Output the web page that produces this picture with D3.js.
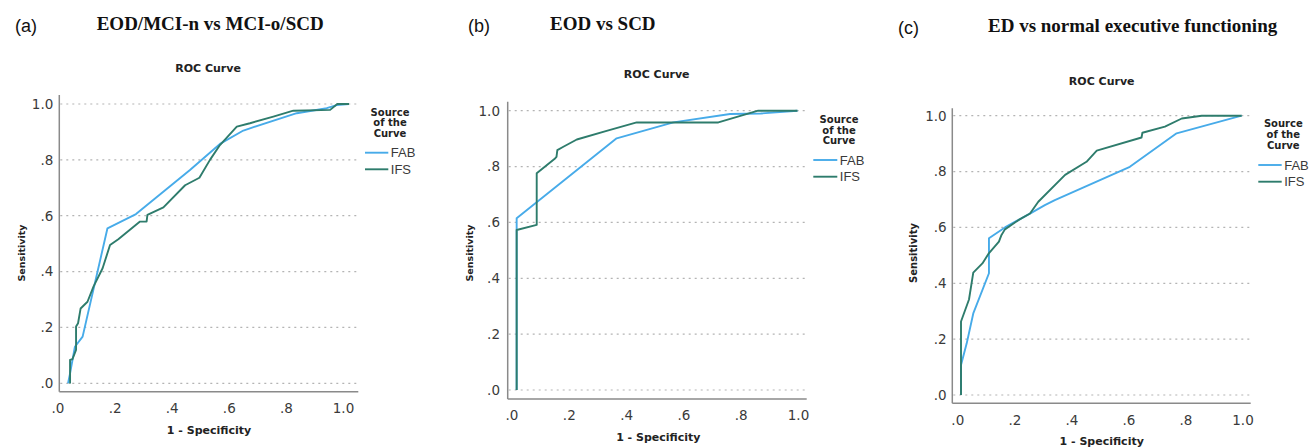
<!DOCTYPE html>
<html><head><meta charset="utf-8">
<script src="https://cdn.jsdelivr.net/npm/d3@7"></script>
<style>
html,body{margin:0;padding:0;background:#fff;}
svg{display:block;}
</style></head>
<body>
<svg id="chart" width="1309" height="447"></svg>
<script>
// ---------- data ----------
const panelLetters = ["(a)", "(b)", "(c)"];
const panelTitles = ["EOD/MCI-n vs MCI-o/SCD", "EOD vs SCD", "ED vs normal executive functioning"];
const chartTitle = "ROC Curve";
const xAxisTitle = "1 - Specificity";
const yAxisTitle = "Sensitivity";
const legendTitle = ["Source", "of the", "Curve"];
const seriesNames = ["FAB", "IFS"];
const tickValues = [0, 0.2, 0.4, 0.6, 0.8, 1.0];
const tickLabels = [".0", ".2", ".4", ".6", ".8", "1.0"];

// panel (a): [1 - specificity, sensitivity]
const fabA = [[0.037,0],[0.043,0.03],[0.061,0.131],[0.088,0.167],[0.175,0.555],[0.275,0.606],[0.464,0.764],[0.569,0.857],[0.651,0.905],[0.674,0.913],[0.838,0.967],[0.943,0.985],[0.978,0.996],[1.021,1.0]];
const ifsA = [[0.041,0.002],[0.044,0.002],[0.044,0.084],[0.052,0.086],[0.065,0.12],[0.065,0.203],[0.072,0.215],[0.081,0.268],[0.105,0.292],[0.126,0.346],[0.158,0.412],[0.184,0.495],[0.213,0.516],[0.289,0.579],[0.312,0.579],[0.315,0.603],[0.371,0.630],[0.447,0.709],[0.497,0.736],[0.534,0.8],[0.569,0.853],[0.628,0.919],[0.674,0.931],[0.756,0.955],[0.826,0.976],[0.955,0.979],[0.98,1.0],[1.021,1.0]];
// panel (b)
const fabB = [[0.018,0],[0.018,0.615],[0.367,0.901],[0.565,0.958],[0.763,0.988],[0.87,0.99],[0.998,1.0]];
const ifsB = [[0.018,0],[0.018,0.573],[0.088,0.591],[0.088,0.776],[0.152,0.829],[0.157,0.835],[0.16,0.859],[0.181,0.871],[0.228,0.897],[0.332,0.928],[0.437,0.958],[0.722,0.958],[0.861,1.0],[0.998,1.0]];
// panel (c)
const fabC = [[0.013,0],[0.013,0.107],[0.033,0.185],[0.056,0.292],[0.111,0.436],[0.111,0.561],[0.167,0.6],[0.261,0.653],[0.307,0.68],[0.342,0.698],[0.605,0.817],[0.769,0.937],[0.997,1.0]];
const ifsC = [[0.013,0],[0.013,0.263],[0.041,0.342],[0.056,0.438],[0.088,0.471],[0.109,0.505],[0.146,0.549],[0.155,0.573],[0.167,0.593],[0.214,0.626],[0.255,0.65],[0.284,0.692],[0.378,0.788],[0.453,0.835],[0.489,0.875],[0.646,0.922],[0.649,0.939],[0.728,0.961],[0.787,0.99],[0.857,1.0],[0.997,1.0]];

const panelSeries = [[fabA, ifsA], [fabB, ifsB], [fabC, ifsC]];

// ---------- layout ----------
const layouts = [
  {x0:57.5, x1:343, y0:383.3, y1:104, axL:59.3, axB:391.7, axT:95, axR:358.3, yLabEnd:53.3, xLabY:403.4,
   letterX:15, letterY:31.5, titleX:96.7, titleY:29.5, rocX:208, rocY:71.5,
   sensX:21.7, sensY:253, sensSize:9.5, specX:209, specY:430,
   legCx:390, legTY:[112.3,122.7,133.3], legL0:365, legL1:388.3, legY:[152.7,169.3]},
  {x0:511.5, x1:798, y0:390, y1:110.7, axL:507.7, axB:399, axT:101.7, axR:806.7, yLabEnd:500, xLabY:410.4,
   letterX:468, letterY:31.5, titleX:550, titleY:29.5, rocX:656.7, rocY:78,
   sensX:470, sensY:253, sensSize:9.5, specX:658.3, specY:436.7,
   legCx:839, legTY:[119,130,140.7], legL0:813.3, legL1:837.3, legY:[160,176.7]},
  {x0:957.3, x1:1242.5, y0:395, y1:115.7, axL:952.3, axB:403.3, axT:108.3, axR:1250.7, yLabEnd:946.7, xLabY:415.4,
   letterX:898, letterY:33.5, titleX:988, titleY:31.7, rocX:1101.7, rocY:85,
   sensX:913.3, sensY:253, sensSize:10, specX:1101.7, specY:440.7,
   legCx:1283.3, legTY:[123.3,134.3,145], legL0:1258.3, legL1:1281.7, legY:[165,181.7]}
];
const colors = ["#47abe9", "#2e7c6c"];
const sansBold = "'DejaVu Sans', sans-serif";

const svg = d3.select("#chart");

layouts.forEach((L, pi) => {
  const g = svg.append("g");
  const x = d3.scaleLinear().domain([0, 1]).range([L.x0, L.x1]);
  const y = d3.scaleLinear().domain([0, 1]).range([L.y0, L.y1]);

  // panel letter + title
  g.append("text").attr("x", L.letterX).attr("y", L.letterY)
    .attr("font-family", "'Liberation Sans', Arial, sans-serif").attr("font-size", 18).attr("fill", "#111")
    .text(panelLetters[pi]);
  g.append("text").attr("x", L.titleX).attr("y", L.titleY)
    .attr("font-family", "'Liberation Serif', 'Times New Roman', serif").attr("font-weight", "bold")
    .attr("font-size", 19).attr("fill", "#111").text(panelTitles[pi]);
  g.append("text").attr("x", L.rocX).attr("y", L.rocY).attr("text-anchor", "middle")
    .attr("font-family", sansBold).attr("font-weight", "bold").attr("font-size", 11).attr("fill", "#222")
    .text(chartTitle);

  // gridlines
  g.append("g").selectAll("line").data(tickValues).join("line")
    .attr("x1", L.axL + 1).attr("x2", L.axR)
    .attr("y1", d => y(d)).attr("y2", d => y(d))
    .attr("stroke", "#b4b4b4").attr("stroke-width", 1.2).attr("stroke-dasharray", "2,4");

  // y axis labels
  const yAxis = d3.axisLeft(y).tickValues(tickValues).tickFormat((d, i) => tickLabels[i])
    .tickSize(0).tickPadding(L.axL - L.yLabEnd);
  const ya = g.append("g").attr("transform", `translate(${L.axL},0)`).call(yAxis);
  ya.select(".domain").remove();
  ya.selectAll("text").attr("font-family", "'DejaVu Sans', sans-serif").attr("font-size", 13.5).attr("fill", "#3a3a3a");

  // x axis labels
  const xAxis = d3.axisBottom(x).tickValues(tickValues).tickFormat((d, i) => tickLabels[i])
    .tickSize(0).tickPadding(L.xLabY - L.axB);
  const xa = g.append("g").attr("transform", `translate(0,${L.axB})`).call(xAxis);
  xa.select(".domain").remove();
  xa.selectAll("text").attr("font-family", "'DejaVu Sans', sans-serif").attr("font-size", 13.5).attr("fill", "#3a3a3a");

  // axis lines
  g.append("line").attr("x1", L.axL).attr("x2", L.axL).attr("y1", L.axT).attr("y2", L.axB)
    .attr("stroke", "#8a8a8a").attr("stroke-width", 1.5);
  g.append("line").attr("x1", L.axL).attr("x2", L.axR).attr("y1", L.axB).attr("y2", L.axB)
    .attr("stroke", "#8a8a8a").attr("stroke-width", 1.5);

  // curves
  const line = d3.line().x(d => x(d[0])).y(d => y(d[1]));
  panelSeries[pi].forEach((s, si) => {
    g.append("path").datum(s).attr("d", line).attr("fill", "none")
      .attr("stroke", colors[si]).attr("stroke-width", 1.9).attr("stroke-linejoin", "round");
  });

  // axis titles
  g.append("text").attr("transform", `translate(${L.sensX},${L.sensY}) rotate(-90)`)
    .attr("text-anchor", "middle").attr("dy", "0.35em")
    .attr("font-family", sansBold).attr("font-weight", "bold").attr("font-size", L.sensSize).attr("fill", "#222")
    .text(yAxisTitle);
  g.append("text").attr("x", L.specX).attr("y", L.specY).attr("dy", "0.35em").attr("text-anchor", "middle")
    .attr("font-family", sansBold).attr("font-weight", "bold").attr("font-size", 11).attr("fill", "#222")
    .text(xAxisTitle);

  // legend
  legendTitle.forEach((t, k) => {
    g.append("text").attr("x", L.legCx).attr("y", L.legTY[k]).attr("dy", "0.35em").attr("text-anchor", "middle")
      .attr("font-family", sansBold).attr("font-weight", "bold").attr("font-size", 10).attr("fill", "#222").text(t);
  });
  seriesNames.forEach((n, k) => {
    g.append("line").attr("x1", L.legL0).attr("x2", L.legL1).attr("y1", L.legY[k]).attr("y2", L.legY[k])
      .attr("stroke", colors[k]).attr("stroke-width", 1.9);
    g.append("text").attr("x", L.legL1 + 2.5).attr("y", L.legY[k]).attr("dy", "0.36em")
      .attr("font-family", "'Liberation Sans', Arial, sans-serif").attr("font-size", 13).attr("fill", "#3a3a3a").text(n);
  });
});
</script>
</body></html>
